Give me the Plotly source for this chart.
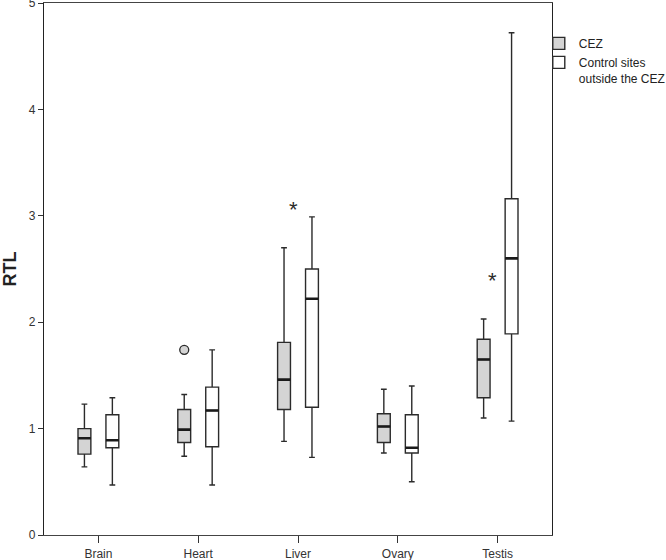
import plotly.graph_objects as go

# ---- data ----
tissues = ["Brain", "Heart", "Liver", "Ovary", "Testis"]

cez_low = [0.64, 0.74, 0.88, 0.77, 1.10]
cez_q1 = [0.76, 0.87, 1.18, 0.87, 1.29]
cez_med = [0.91, 0.99, 1.46, 1.02, 1.65]
cez_q3 = [1.00, 1.18, 1.81, 1.14, 1.84]
cez_high = [1.23, 1.32, 2.70, 1.37, 2.03]
cez_outliers = [[None], [1.74], [None], [None], [None]]
cez_extremes = {"Liver": 3.11, "Testis": 2.44}

ctl_low = [0.47, 0.47, 0.73, 0.50, 1.07]
ctl_q1 = [0.82, 0.83, 1.20, 0.77, 1.89]
ctl_med = [0.89, 1.17, 2.22, 0.82, 2.60]
ctl_q3 = [1.13, 1.39, 2.50, 1.13, 3.16]
ctl_high = [1.29, 1.74, 2.99, 1.40, 4.72]

y_ticks = [0, 1, 2, 3, 4, 5]

FONT = "Liberation Sans, Arial, sans-serif"
DARK = "#2b2b2b"

fig = go.Figure()

fig.add_trace(go.Box(
    name="CEZ",
    x=tissues,
    q1=cez_q1, median=cez_med, q3=cez_q3,
    lowerfence=cez_low, upperfence=cez_high,
    y=cez_outliers,
    boxpoints="outliers", pointpos=0, jitter=0,
    fillcolor="#d4d4d4",
    line=dict(color=DARK, width=1.4),
    marker=dict(symbol="circle", size=9, color="#d4d4d4",
                line=dict(color=DARK, width=1.3)),
    whiskerwidth=0.45,
    offsetgroup="cez",
))

fig.add_trace(go.Box(
    name="Control sites<br>outside the CEZ",
    x=tissues,
    q1=ctl_q1, median=ctl_med, q3=ctl_q3,
    lowerfence=ctl_low, upperfence=ctl_high,
    boxpoints=False,
    fillcolor="#ffffff",
    line=dict(color=DARK, width=1.4),
    whiskerwidth=0.45,
    offsetgroup="ctl",
))

# thicker median bars (SPSS style), overlaid on each group's boxes
for grp, med in (("cez", cez_med), ("ctl", ctl_med)):
    fig.add_trace(go.Box(
        x=tissues,
        q1=med, median=med, q3=med,
        lowerfence=med, upperfence=med,
        boxpoints=False,
        fillcolor="rgba(0,0,0,0)",
        line=dict(color="#1a1a1a", width=2.6),
        whiskerwidth=0,
        offsetgroup=grp,
        showlegend=False, hoverinfo="skip",
    ))

# extreme values (SPSS asterisks) for the CEZ group
for tissue, val in cez_extremes.items():
    fig.add_annotation(
        x=tissue, y=val, xref="x", yref="y",
        text="*", showarrow=False,
        font=dict(family=FONT, size=22, color=DARK),
        xshift=-5, yshift=-5,
    )

fig.update_layout(
    width=666, height=560,
    margin=dict(l=44, r=114, t=3, b=25, autoexpand=False),
    paper_bgcolor="white", plot_bgcolor="white",
    boxmode="group", boxgap=0.44, boxgroupgap=0.54,
    font=dict(family=FONT, size=12, color="#333333"),
    showlegend=True,
    legend=dict(
        x=0.974, y=0.951, xanchor="left", yanchor="top",
        valign="top",
        font=dict(family=FONT, size=12, color="#222222"),
        tracegroupgap=0, itemwidth=30,
        bgcolor="rgba(0,0,0,0)",
    ),
)

fig.update_xaxes(
    type="category",
    showline=True, linecolor="#444444", linewidth=1.3, mirror=True,
    ticks="outside", ticklen=7, tickcolor="#333333", tickwidth=1.3,
    tickfont=dict(family=FONT, size=12, color="#333333"),
    showgrid=False, zeroline=False,
)

fig.update_yaxes(
    range=[0, 5],
    tickvals=y_ticks,
    ticklabeloverflow="allow",
    showline=True, linecolor="#222222", linewidth=1.3, mirror=True,
    ticks="outside", ticklen=5, tickcolor="#333333", tickwidth=1.3,
    tickfont=dict(family=FONT, size=12, color="#333333"),
    showgrid=False, zeroline=False,
    title=dict(text="<b>RTL</b>", font=dict(family=FONT, size=18, color="#222222"),
               standoff=8),
)

fig.write_html("out.html", config={"displayModeBar": False},
               post_script="document.body.style.margin='0px';")
